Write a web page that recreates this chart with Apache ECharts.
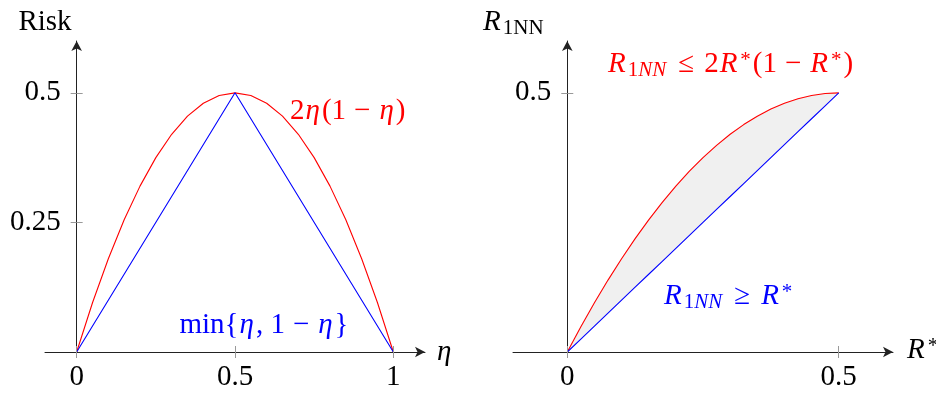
<!DOCTYPE html>
<html>
<head>
<meta charset="utf-8">
<script src="https://cdn.jsdelivr.net/npm/echarts@6/dist/echarts.min.js"></script>
<style>html,body{margin:0;padding:0;background:#fff}#c{width:936px;height:394px}</style>
</head>
<body>
<div id="c"></div>
<script>
// ---- data ----
const etaValues = [0, 0.05, 0.1, 0.15, 0.2, 0.25, 0.3, 0.35, 0.4, 0.45, 0.5, 0.55, 0.6, 0.65, 0.7, 0.75, 0.8, 0.85, 0.9, 0.95, 1];
const nnRiskLeft = [0, 0.095, 0.18, 0.255, 0.32, 0.375, 0.42, 0.455, 0.48, 0.495, 0.5, 0.495, 0.48, 0.455, 0.42, 0.375, 0.32, 0.255, 0.18, 0.095, 0];
const minEta = [0, 0.5, 1];
const minRisk = [0, 0.5, 0];
const rStarValues = [0, 0.025, 0.05, 0.075, 0.1, 0.125, 0.15, 0.175, 0.2, 0.225, 0.25, 0.275, 0.3, 0.325, 0.35, 0.375, 0.4, 0.425, 0.45, 0.475, 0.5];
const r1nnUpper = [0, 0.04875, 0.095, 0.13875, 0.18, 0.21875, 0.255, 0.28875, 0.32, 0.34875, 0.375, 0.39875, 0.42, 0.43875, 0.455, 0.46875, 0.48, 0.48875, 0.495, 0.49875, 0.5];
const r1nnLower = [0, 0.025, 0.05, 0.075, 0.1, 0.125, 0.15, 0.175, 0.2, 0.225, 0.25, 0.275, 0.3, 0.325, 0.35, 0.375, 0.4, 0.425, 0.45, 0.475, 0.5];
const leftXTicks = [0, 0.5, 1];
const leftYTicks = [0.25, 0.5];
const rightXTicks = [0, 0.5];
const rightYTicks = [0.5];
const leftXRange = [-0.1, 1.1];
const rightXRange = [-0.1, 0.6];
const yRange = [0, 0.6];

// ---- styling / layout ----
const FONT = "'Liberation Serif', 'DejaVu Serif', serif";
const FS = 29;
const SFS = 21;
const AXIS_COLOR = '#222';
const TICK_COLOR = '#999';
const RED = '#ff0000';
const BLUE = '#0000ff';
const GRID_W = 380;
const GRID_H = 311;

function pairs(xs, ys) { return xs.map((x, i) => [x, ys[i]]); }
// pixel offset that puts a left y-axis at x = 0 of its grid's x range
function zeroOffset(range) { return -GRID_W * (0 - range[0]) / (range[1] - range[0]); }

function xAxisPair(grid, range, ticks) {
  const main = {
    type: 'value', gridIndex: grid, min: range[0], max: range[1], position: 'bottom', z: 5,
    splitLine: { show: false },
    axisLine: { show: true, onZero: false, symbol: ['none', 'arrow'], symbolSize: [8, 10],
      lineStyle: { color: AXIS_COLOR, width: 1 } },
    axisTick: { show: true, customValues: ticks, length: 6, lineStyle: { color: TICK_COLOR, width: 1 } },
    axisLabel: { show: true, customValues: ticks, margin: 11, fontSize: FS, fontFamily: FONT, color: '#000' }
  };
  const dup = {
    type: 'value', gridIndex: grid, min: range[0], max: range[1], position: 'bottom', z: 5,
    splitLine: { show: false },
    axisLine: { show: false, onZero: false },
    axisTick: { show: true, inside: true, customValues: ticks, length: 6, lineStyle: { color: TICK_COLOR, width: 1 } },
    axisLabel: { show: false }
  };
  return [main, dup];
}
function yAxisPair(grid, ticks, xRange) {
  const off = zeroOffset(xRange);
  const main = {
    type: 'value', gridIndex: grid, min: yRange[0], max: yRange[1], position: 'left', offset: off, z: 5,
    splitLine: { show: false },
    axisLine: { show: true, onZero: false, symbol: ['none', 'arrow'], symbolSize: [8, 10],
      lineStyle: { color: AXIS_COLOR, width: 1 } },
    axisTick: { show: true, customValues: ticks, length: 6, lineStyle: { color: TICK_COLOR, width: 1 } },
    axisLabel: { show: true, customValues: ticks, margin: 16, fontSize: FS, fontFamily: FONT, color: '#000' }
  };
  const dup = {
    type: 'value', gridIndex: grid, min: yRange[0], max: yRange[1], position: 'left', offset: off, z: 5,
    splitLine: { show: false },
    axisLine: { show: false, onZero: false },
    axisTick: { show: true, inside: true, customValues: ticks, length: 6, lineStyle: { color: TICK_COLOR, width: 1 } },
    axisLabel: { show: false }
  };
  return [main, dup];
}

const lx = xAxisPair(0, leftXRange, leftXTicks);
const rx = xAxisPair(1, rightXRange, rightXTicks);
const ly = yAxisPair(0, leftYTicks, leftXRange);
const ry = yAxisPair(1, rightYTicks, rightXRange);

const rich = {
  it: { fontStyle: 'italic', fontSize: FS, fontFamily: FONT, padding: [0, 2, 0, 1] },
  op: { fontSize: FS, fontFamily: FONT, padding: [0, 8, 0, 8] },
  rel: { fontSize: FS, fontFamily: FONT, padding: [0, 10, 0, 10] },
  sub: { fontSize: SFS, fontFamily: FONT, padding: [12, 0, 0, 0] },
  subit: { fontSize: SFS, fontStyle: 'italic', fontFamily: FONT, padding: [12, 2, 0, 0] },
  sup: { fontSize: SFS, fontFamily: FONT, padding: [0, 2, 8, 1] }
};
function label(text, x, y, color, align) {
  return {
    type: 'text', x: x, y: y, silent: true, z: 10,
    style: { text: text, rich: rich, fill: color, fontSize: FS, fontFamily: FONT,
      align: align || 'left', verticalAlign: 'middle' }
  };
}

const option = {
  animation: false,
  backgroundColor: '#fff',
  grid: [
    { left: 45, top: 41, width: GRID_W, height: GRID_H, outerBoundsMode: 'none', containLabel: false },
    { left: 513, top: 41, width: GRID_W, height: GRID_H, outerBoundsMode: 'none', containLabel: false }
  ],
  xAxis: [lx[0], rx[0], lx[1], rx[1]],
  yAxis: [ly[0], ry[0], ly[1], ry[1]],
  series: [
    { type: 'line', xAxisIndex: 0, yAxisIndex: 0, data: pairs(etaValues, nnRiskLeft),
      showSymbol: false, symbol: 'none', lineStyle: { color: RED, width: 1.1 }, z: 3 },
    { type: 'line', xAxisIndex: 0, yAxisIndex: 0, data: pairs(minEta, minRisk),
      showSymbol: false, symbol: 'none', lineStyle: { color: BLUE, width: 1.1 }, z: 4 },
    { type: 'custom', xAxisIndex: 1, yAxisIndex: 1, z: 1, silent: true,
      data: rStarValues.map((r, i) => [r, r1nnUpper[i], r1nnLower[i]]),
      encode: { x: 0, y: [1, 2] },
      renderItem: function (params, api) {
        if (params.dataIndex !== 0) return null;
        const pts = [];
        for (let i = 0; i < rStarValues.length; i++) pts.push(api.coord([rStarValues[i], r1nnUpper[i]]));
        for (let i = rStarValues.length - 1; i >= 0; i--) pts.push(api.coord([rStarValues[i], r1nnLower[i]]));
        return { type: 'polygon', shape: { points: pts }, style: { fill: '#f0f0f0' } };
      } },
    { type: 'line', xAxisIndex: 1, yAxisIndex: 1, data: pairs(rStarValues, r1nnLower),
      showSymbol: false, symbol: 'none', lineStyle: { color: BLUE, width: 1.1 }, z: 4 },
    { type: 'line', xAxisIndex: 1, yAxisIndex: 1, data: pairs(rStarValues, r1nnUpper),
      showSymbol: false, symbol: 'none', lineStyle: { color: RED, width: 1.1 }, z: 3 }
  ],
  graphic: [
    label('Risk', 45, 22, '#000', 'center'),
    label('{it|η}', 436, 352, '#000'),
    label('2{it|η}(1{op|−}{it|η})', 290, 111, RED),
    label('min{{it|η}, 1{op|−}{it|η}}', 264, 325, BLUE, 'center'),
    label('{it|R}{sub|1NN}', 482, 22, '#000'),
    label('{it|R}{sup|*}', 906, 350, '#000'),
    label('{it|R}{sub|1}{subit|NN}{rel|≤}2{it|R}{sup|*}(1{op|−}{it|R}{sup|*})', 607, 64, RED),
    label('{it|R}{sub|1}{subit|NN}{rel|≥}{it|R}{sup|*}', 663, 296, BLUE)
  ]
};

const chart = echarts.init(document.getElementById('c'), null, { renderer: 'canvas' });
chart.setOption(option);
</script>
</body>
</html>
